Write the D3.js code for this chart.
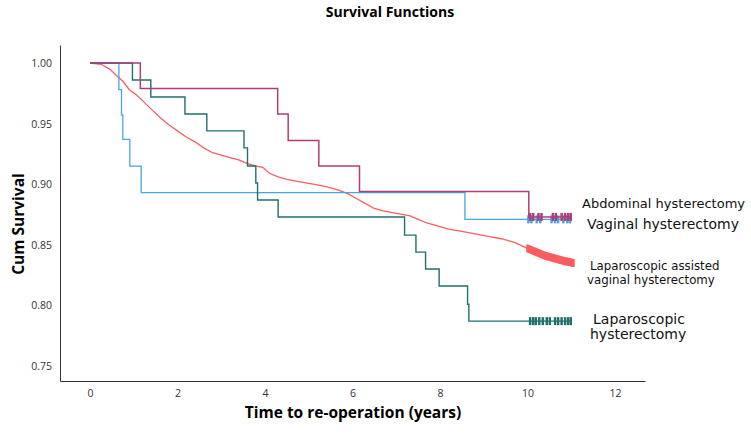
<!DOCTYPE html>
<html>
  <head>
    <title>Survival Functions</title>
    <script src="https://d3js.org/d3.v7.min.js"></script>
    <style>
      body { margin: 0; background: #fff; }
      .tick text { font-family: "Open Sans", sans-serif; font-size: 10.5px; fill: #333; }
      .title { font-family: "Open Sans", sans-serif; font-weight: bold; font-size: 14px; }
      .axis-label { font-family: "Open Sans", sans-serif; font-weight: bold; font-size: 15.5px; }
      .grp { font-family: "DejaVu Sans", sans-serif; fill: #111; }
    </style>
  </head>
  <body>
    <div id="chart"></div>
    <script>
      // step-function groups: event times and survival after each step
      const abdTime = [0, 1.15, 4.29, 4.53, 5.23, 6.16, 10.03];
      const abdSurv = [1, 0.979, 0.958, 0.936, 0.915, 0.894, 0.873];
      const abdCens = [10.06, 10.13, 10.25, 10.32, 10.58, 10.65, 10.78, 10.86, 10.93, 10.99];

      const vagTime = [0, 0.66, 0.72, 0.75, 0.91, 1.17, 8.57];
      const vagSurv = [1, 0.978, 0.957, 0.937, 0.915, 0.893, 0.871];
      const vagCens = [10.02, 10.09, 10.21, 10.29, 10.55, 10.63, 10.7, 10.82, 10.91, 10.97];

      const lapTime = [0, 0.97, 1.39, 2.17, 2.67, 3.52, 3.6, 3.79, 3.83, 4.3, 7.19, 7.45, 7.67, 7.98, 8.63, 8.66];
      const lapSurv = [1, 0.986, 0.972, 0.958, 0.944, 0.93, 0.915, 0.901, 0.887, 0.873, 0.858, 0.844, 0.83, 0.816, 0.801, 0.787];
      const lapCens = [10.06, 10.13, 10.19, 10.27, 10.35, 10.44, 10.51, 10.63, 10.7, 10.78, 10.86, 10.93, 10.99];

      // LAVH has many small steps, read as a dense trace
      const lavhTime = [0, 0.25, 0.45, 0.6, 0.75, 0.9, 1.05, 1.2, 1.4, 1.6, 1.8, 2.0, 2.2, 2.4, 2.6, 2.8, 3.0, 3.2, 3.4, 3.6, 3.8, 3.95, 4.1, 4.3, 4.5, 4.8, 5.1, 5.4, 5.7, 5.9, 6.1, 6.3, 6.5, 6.7, 7.0, 7.3, 7.5, 7.7, 7.9, 8.2, 8.5, 8.8, 9.1, 9.4, 9.7, 10.0, 10.2, 10.4, 10.6, 10.8, 11.05];
      const lavhSurv = [1, 0.999, 0.995, 0.99, 0.985, 0.978, 0.974, 0.969, 0.962, 0.955, 0.949, 0.944, 0.939, 0.935, 0.93, 0.926, 0.924, 0.922, 0.92, 0.917, 0.915, 0.914, 0.909, 0.906, 0.904, 0.902, 0.9, 0.898, 0.895, 0.892, 0.888, 0.884, 0.88, 0.878, 0.876, 0.874, 0.871, 0.868, 0.866, 0.863, 0.861, 0.859, 0.857, 0.855, 0.852, 0.847, 0.844, 0.841, 0.839, 0.837, 0.835];
      const lavhCens = [10.0, 10.03, 10.06, 10.09, 10.12, 10.15, 10.18, 10.21, 10.24, 10.27, 10.3, 10.33, 10.36, 10.39, 10.42, 10.45, 10.48, 10.51, 10.54, 10.57, 10.6, 10.63, 10.66, 10.69, 10.72, 10.75, 10.78, 10.81, 10.84, 10.87, 10.9, 10.93, 10.96, 10.99, 11.02, 11.05];

      const xTicks = [0, 2, 4, 6, 8, 10, 12];
      const yTicks = [0.75, 0.8, 0.85, 0.9, 0.95, 1.0];

      const width = 751, height = 433;
      const svg = d3.select("#chart").append("svg")
        .attr("width", width).attr("height", height);

      const x = d3.scaleLinear().domain([-0.6857, 12.6857]).range([60, 645]);
      const y = d3.scaleLinear().domain([0.7376, 1.0149]).range([381, 45]);

      svg.append("g")
        .attr("transform", "translate(0,381)")
        .call(d3.axisBottom(x).tickValues(xTicks).tickSize(0).tickPadding(9).tickFormat(d3.format("d")))
        .call(g => g.select(".domain").attr("stroke", "#333"));
      svg.append("g")
        .attr("transform", "translate(60,0)")
        .call(d3.axisLeft(y).tickValues(yTicks).tickSize(0).tickPadding(8).tickFormat(d3.format(".2f")))
        .call(g => g.select(".domain").attr("stroke", "#333"));

      const groups = [
        { t: lavhTime, s: lavhSurv, c: lavhCens, color: "#fb5d5e", w: 1.3, step: false },
        { t: vagTime, s: vagSurv, c: vagCens, color: "#4aa5e0", w: 1.3, step: true },
        { t: lapTime, s: lapSurv, c: lapCens, color: "#23706b", w: 1.4, step: true },
        { t: abdTime, s: abdSurv, c: abdCens, color: "#ad3f78", w: 1.5, step: true }
      ];

      groups.forEach(g => {
        const pts = g.t.map((t, i) => [t, g.s[i]]);
        const last = d3.max(g.c);
        const valueAt = g.step
          ? (t => g.s[d3.bisectRight(g.t, t) - 1])
          : d3.scaleLinear().domain(g.t).range(g.s);
        if (last > pts[pts.length - 1][0]) pts.push([last, valueAt(last)]);
        const line = d3.line()
          .x(d => x(d[0])).y(d => y(d[1]))
          .curve(g.step ? d3.curveStepAfter : d3.curveLinear);
        svg.append("path").datum(pts)
          .attr("fill", "none").attr("stroke", g.color)
          .attr("stroke-width", g.w).attr("d", line);
        svg.append("g").selectAll("line").data(g.c).join("line")
          .attr("x1", d => x(d)).attr("x2", d => x(d))
          .attr("y1", d => y(valueAt(d)) - 4).attr("y2", d => y(valueAt(d)) + 4)
          .attr("stroke", g.color).attr("stroke-width", 2.5);
      });

      svg.append("text").attr("class", "title")
        .attr("x", 390).attr("y", 17).attr("text-anchor", "middle")
        .text("Survival Functions");
      svg.append("text").attr("class", "axis-label")
        .attr("x", 353).attr("y", 418).attr("text-anchor", "middle")
        .text("Time to re-operation (years)");
      svg.append("text").attr("class", "axis-label")
        .attr("transform", "rotate(-90)")
        .attr("x", -224).attr("y", 24).attr("text-anchor", "middle")
        .text("Cum Survival");

      const labels = [
        { text: ["Abdominal hysterectomy"], x: 582, y: 208, size: 13 },
        { text: ["Vaginal hysterectomy"], x: 587, y: 229, size: 14 },
        { text: ["Laparoscopic assisted", "vaginal hysterectomy"], x: 590, y: 270, size: 11.8, lh: 14 },
        { text: ["Laparoscopic", "hysterectomy"], x: 593, y: 324, size: 14, lh: 15 }
      ];
      labels.forEach(l => {
        const t = svg.append("text").attr("class", "grp")
          .attr("x", l.x).attr("y", l.y).style("font-size", l.size + "px");
        l.text.forEach((s, i) => {
          t.append("tspan").attr("x", i === 0 ? l.x : l.x - 3)
            .attr("dy", i === 0 ? 0 : l.lh).text(s);
        });
      });
    </script>
  </body>
</html>
